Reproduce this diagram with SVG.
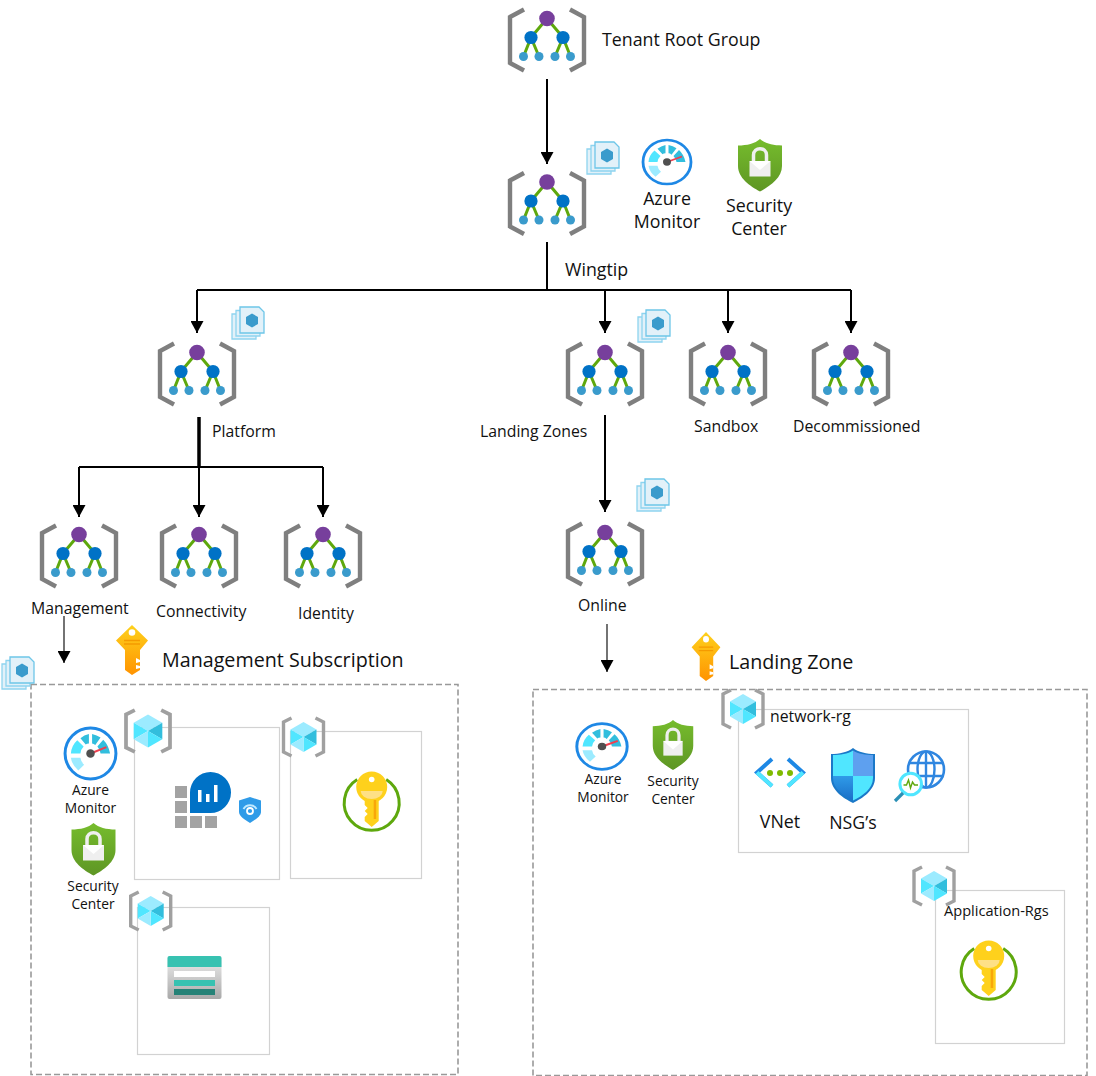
<svg xmlns="http://www.w3.org/2000/svg" xmlns:xlink="http://www.w3.org/1999/xlink" width="1096" height="1076" viewBox="0 0 1096 1076">
<style>
text{font-family:"Open Sans","Noto Sans","Liberation Sans",sans-serif;fill:#111}
.c{text-anchor:middle}
.s14{font-size:13.8px}.s16{font-size:15.8px}.s18{font-size:17.8px}.s20{font-size:19.7px}
.box{fill:none;stroke:#d2d2d2;stroke-width:1.2}
.dash{fill:none;stroke:#999;stroke-width:1.6;stroke-dasharray:6 3}
.ln{fill:none;stroke:#000;stroke-width:2}
.thin{fill:none;stroke:#000;stroke-width:1.1}
.thick{fill:none;stroke:#000;stroke-width:3.5}
</style>
<defs>
<marker id="ah" markerUnits="userSpaceOnUse" markerWidth="13" markerHeight="13" refX="12" refY="6.5" orient="auto"><path d="M0 0L12 6.5L0 13Z" fill="#000"/></marker>
<linearGradient id="gs" x1="0" y1="0" x2="0" y2="1"><stop offset="0" stop-color="#76bc2d"/><stop offset="1" stop-color="#5e9624"/></linearGradient>
<linearGradient id="gk" x1="0" y1="0" x2="0" y2="1"><stop offset="0" stop-color="#fed11c"/><stop offset="1" stop-color="#ff9300"/></linearGradient>
<linearGradient id="gst" x1="0" y1="0" x2="0" y2="1"><stop offset="0" stop-color="#eeeeee"/><stop offset="1" stop-color="#a9a9a9"/></linearGradient>
<linearGradient id="gn" x1="0" y1="0" x2="0" y2="1"><stop offset="0" stop-color="#2f9be8"/><stop offset="1" stop-color="#1b6fc8"/></linearGradient>
<g id="mg">
<path d="M-23 9.500L-37 17V63L-23 70.500M23 9.500L37 17V63L23 70.500" fill="none" stroke="#7f7f7f" stroke-width="4.400"/>
<path d="M0 18.500L-16 37.500M-16 37.500L-23.500 56.500M-16 37.500L-8 56.500M0 18.500L16 37.500M16 37.500L8 56.500M16 37.500L23.500 56.500" fill="none" stroke="#5ea80d" stroke-width="3"/>
<circle cx="0" cy="18.500" r="7.800" fill="#773f9c"/>
<circle cx="-16" cy="37.500" r="6.600" fill="#0072c6"/><circle cx="16" cy="37.500" r="6.600" fill="#0072c6"/>
<g fill="#3a9bcc"><circle cx="-23.500" cy="56.500" r="4.500"/><circle cx="-8" cy="56.500" r="4.500"/><circle cx="8" cy="56.500" r="4.500"/><circle cx="23.500" cy="56.500" r="4.500"/></g>
</g>
<g id="stack">
<path d="M0 8H19L24 13V33H0Z" fill="#e2f1f9" stroke="#8ed4ef" stroke-width="1.300"/>
<path d="M4 4.500H23L28 9.500V30H4Z" fill="#e2f1f9" stroke="#8ed4ef" stroke-width="1.300"/>
<path d="M8 1H27L32 6V27H8Z" fill="#e2f1f9" stroke="#6ec6e8" stroke-width="1.300"/>
<path d="M20 7.500L26 11V18L20 21.500L14 18V11Z" fill="#3a9bcc"/>
</g>
<g id="rg">
<path d="M-12 -19L-20 -15V15L-12 19M12 -19L20 -15V15L12 19" fill="none" stroke="#a0a0a0" stroke-width="3.400"/>
<path d="M0 -15L13 -7.500L0 0L-13 -7.500Z" fill="#9cebff"/>
<path d="M13 -7.500V7.500L0 0Z" fill="#32bedd"/>
<path d="M-13 -7.500V7.500L0 0Z" fill="#50e6ff"/>
<path d="M0 0L13 7.500L0 15Z" fill="#50e6ff"/>
<path d="M0 0L-13 7.500L0 15Z" fill="#9cebff"/>
</g>
<g id="gauge">
<circle r="24" fill="#fff" stroke="#1e88e5" stroke-width="2.800"/>
<path d="M-18.500 4H-9.500Q-9 8 -6 10.500L-11.500 16Q-17.500 11 -18.500 4Z" fill="#9cebff"/>
<path d="M-18.500 0Q-18 -7.500 -12.500 -12.500L-6.500 -6.500Q-9 -4 -9.500 0Z" fill="#50e6ff"/>
<path d="M-9.500 -14.500Q-6 -17.500 -1.500 -18.500V-9.500Q-3.500 -9.500 -4.500 -8.500Z" fill="#32bedd"/>
<path d="M1.500 -18.500Q6 -17.500 9.500 -15L4.500 -8Q3 -9.500 1.500 -9.500Z" fill="#32bedd"/>
<path d="M12 -13Q17 -8 18.500 0H9.500Q9 -3.500 6.500 -6.500Z" fill="#32bedd"/>
<path d="M0 0L15 -6" stroke="#ef3f4f" stroke-width="2" fill="none"/>
<circle r="4" fill="#505050"/>
</g>
<g id="lock">
<path d="M0 0C5 4.500 13 6.500 22 6.500V27C22 39 10 47 0 52.500C-10 47 -22 39 -22 27V6.500C-13 6.500 -5 4.500 0 0Z" fill="url(#gs)"/>
<rect x="-10.500" y="22" width="21" height="15.500" fill="#efefef"/>
<path d="M-10.500 22L0 31L10.500 22" fill="#fff"/>
<path d="M-6.500 22V16C-6.500 7.500 6.500 7.500 6.500 16V22" fill="none" stroke="#efefef" stroke-width="3.500"/>
</g>
<g id="ykey">
<path d="M0 0L16 15.500L8 25V45L0 50L-7 45V25L-16 15.500Z" fill="url(#gk)"/>
<circle cx="0" cy="7.500" r="3.300" fill="#fff"/>
<path d="M-8 15.500H8M-8 19H8" stroke="#f59a00" stroke-width="1.300"/>
<path d="M4 33L8 35V37L4 38ZM4 40L8 41V43L4 44Z" fill="#fff"/>
</g>
<g id="vault">
<path d="M-14.500 -23.500A27.500 27.500 0 1 0 14.500 -23.500" fill="none" stroke="#5ea80d" stroke-width="3"/>
<circle cy="-16" r="15.500" fill="#fed11c"/>
<path d="M-11 -12H11A11 8 0 0 1 -11 -12Z" fill="#fee086"/>
<circle cy="-23.500" r="2.800" fill="#fff"/>
<path d="M-7 -4H7V18L0 24L-7 18V14L-4 11L-7 8L-4 5L-7 2Z" fill="#fed11c"/>
<rect x="2" y="-3" width="2.500" height="19" fill="#f8a70a"/>
</g>
</defs>

<g id="connectors">
<path class="ln" d="M547 79V164" marker-end="url(#ah)"/>
<path class="ln" d="M547 242V290"/>
<path class="ln" d="M197 290H851"/>
<path class="ln" d="M197 290V333" marker-end="url(#ah)"/>
<path class="ln" d="M605 290V333" marker-end="url(#ah)"/>
<path class="ln" d="M728 290V333" marker-end="url(#ah)"/>
<path class="ln" d="M851 290V333" marker-end="url(#ah)"/>
<path class="thick" d="M199 417V467"/>
<path class="ln" d="M79 467H323"/>
<path class="ln" d="M79 467V517" marker-end="url(#ah)"/>
<path class="ln" d="M199 467V517" marker-end="url(#ah)"/>
<path class="ln" d="M323 467V517" marker-end="url(#ah)"/>
<path class="ln" d="M605 415V512" marker-end="url(#ah)"/>
<path class="thin" d="M64 616V663" marker-end="url(#ah)"/>
<path class="thin" d="M607 624V672" marker-end="url(#ah)"/>
</g>

<g id="node-tenant"><use href="#mg" x="547" y="0"/><text x="602" y="46" class="s18">Tenant Root Group</text></g>
<g id="node-wingtip"><use href="#mg" x="547" y="163.500"/><use href="#stack" x="587" y="141"/><text x="565" y="276" class="s18">Wingtip</text></g>
<g id="top-monitor"><use href="#gauge" transform="translate(667 162) scale(1 .92)"/><text x="667" y="205" class="c s18">Azure</text><text x="667" y="228" class="c s18">Monitor</text></g>
<g id="top-security"><use href="#lock" x="760" y="139"/><text x="759" y="212" class="c s18">Security</text><text x="759" y="235" class="c s18">Center</text></g>

<g id="node-platform"><use href="#mg" x="197" y="334"/><use href="#stack" x="232" y="306"/><text x="212" y="437" class="s16">Platform</text></g>
<g id="node-landing-zones"><use href="#mg" x="605" y="334"/><use href="#stack" x="638" y="309"/><text x="480" y="437" class="s16">Landing Zones</text></g>
<g id="node-sandbox"><use href="#mg" x="728" y="334"/><text x="694" y="432" class="s16">Sandbox</text></g>
<g id="node-decommissioned"><use href="#mg" x="851" y="334"/><text x="793" y="432" class="s16">Decommissioned</text></g>
<g id="node-management"><use href="#mg" x="79" y="516"/><text x="31" y="614" class="s16">Management</text></g>
<g id="node-connectivity"><use href="#mg" x="199" y="516"/><text x="156" y="617" class="s16">Connectivity</text></g>
<g id="node-identity"><use href="#mg" x="323" y="516"/><text x="298" y="619" class="s16">Identity</text></g>
<g id="node-online"><use href="#mg" x="605" y="514"/><use href="#stack" x="637" y="478"/><text x="578" y="611" class="s16">Online</text></g>

<g id="management-subscription">
<rect class="dash" x="31" y="684.500" width="427" height="390"/>
<use href="#stack" x="2" y="656"/>
<use href="#ykey" transform="translate(132 625)"/>
<text x="162" y="667" class="s20">Management Subscription</text>
<use href="#gauge" transform="translate(90.500 753.500) scale(1.060)"/>
<text x="90.500" y="795" class="c s14">Azure</text><text x="90.500" y="813" class="c s14">Monitor</text>
<use href="#lock" transform="translate(93.500 823)"/>
<text x="93" y="891" class="c s14">Security</text><text x="93" y="909" class="c s14">Center</text>
<rect class="box" x="134.500" y="727.500" width="145" height="152"/>
<use href="#rg" transform="translate(148 731) scale(1.100)"/>
<g id="log-analytics">
<g fill="#a3a3a3"><rect x="175" y="786" width="12" height="12"/><rect x="175" y="801" width="12" height="12"/><rect x="175" y="816" width="12" height="12"/><rect x="190" y="816" width="12" height="12"/><rect x="205" y="816" width="12" height="12"/></g>
<path d="M210.500 772A20.500 20.500 0 0 1 210.500 813H190V792.500A20.500 20.500 0 0 1 210.500 772Z" fill="#0072c6"/>
<g fill="#fff"><rect x="198" y="790" width="3.500" height="12"/><rect x="206" y="794" width="3.500" height="8"/><rect x="214" y="785" width="3.500" height="17"/></g>
</g>
<g id="defender-small">
<path d="M250 797L261 800.500V812C261 816 255 820 250 823C245 820 239 816 239 812V800.500Z" fill="#2f9be8"/>
<path d="M243.500 809A7.500 7.500 0 0 1 256.500 809" fill="none" stroke="#bfe9ff" stroke-width="2"/>
<circle cx="250" cy="811" r="3" fill="none" stroke="#fff" stroke-width="1.800"/>
</g>
<rect class="box" x="290.500" y="731.500" width="131" height="147"/>
<use href="#rg" x="303.500" y="737"/>
<use href="#vault" x="371.700" y="803"/>
<rect class="box" x="137.500" y="907.500" width="132" height="147"/>
<use href="#rg" x="150.700" y="911"/>
<g id="storage">
<rect x="167.500" y="956" width="54" height="43" rx="2" fill="url(#gst)"/>
<path d="M167.500 967V958Q167.500 956 169.500 956H219.500Q221.500 956 221.500 958V967Z" fill="#37c2b1"/>
<rect x="174" y="971" width="41" height="6" fill="#fff"/>
<rect x="174" y="980" width="41" height="6" fill="#37c2b1"/>
<rect x="174" y="989" width="41" height="6" fill="#258277"/>
</g>
</g>

<g id="landing-zone">
<rect class="dash" x="533" y="689.500" width="554" height="386"/>
<use href="#ykey" transform="translate(706 632) scale(.9 .98)"/>
<text x="729" y="669" class="s20">Landing Zone</text>
<use href="#gauge" transform="translate(602 746.500) scale(1.050 .95)"/>
<text x="603" y="784" class="c s14">Azure</text><text x="603" y="802" class="c s14">Monitor</text>
<use href="#lock" transform="translate(673 720) scale(.92 .95)"/>
<text x="673" y="786" class="c s14">Security</text><text x="673" y="804" class="c s14">Center</text>
<rect class="box" x="738.500" y="709.500" width="230" height="143"/>
<use href="#rg" x="743" y="709"/>
<text x="770" y="722" class="s16">network-rg</text>
<g id="vnet">
<path d="M772 759L757 772.500L772 786" fill="none" stroke="#1e88e5" stroke-width="4"/>
<path d="M788 759L803 772.500L788 786" fill="none" stroke="#1e88e5" stroke-width="4"/>
<path d="M757 772.500L772 786M803 772.500L788 786" fill="none" stroke="#50e6ff" stroke-width="4"/>
<g fill="#7fba00"><circle cx="770" cy="773" r="3"/><circle cx="780" cy="773" r="3"/><circle cx="790" cy="773" r="3"/></g>
</g>
<g id="nsg">
<path d="M853 748C858 752 867 754 875 754V778C875 790 863 798 853 803C843 798 831 790 831 778V754C839 754 848 752 853 748Z" fill="#1b78c8"/>
<path d="M853 750.500V776H833V755C840 755 848 754 853 750.500Z" fill="#50e6ff"/>
<path d="M853 750.500C858 754 866 755 873 755V776H853Z" fill="#5ea0ef"/>
<path d="M853 776H873V778C873 789 862 796 853 800.500Z" fill="#50e6ff"/>
<path d="M833 776H853V800.500C844 796 833 789 833 778Z" fill="url(#gn)"/>
</g>
<g id="network-watcher">
<circle cx="926" cy="769.500" r="18" fill="#fff" stroke="#2f86e0" stroke-width="2.600"/>
<g fill="none" stroke="#2f86e0" stroke-width="2.400"><ellipse cx="926" cy="769.500" rx="8.500" ry="18"/><path d="M926 751.500V787.500M908.500 763H943.500M908.500 776H943.500"/></g>
<circle cx="910.700" cy="784" r="10.800" fill="#fff" stroke="#50e6ff" stroke-width="3"/>
<path d="M903.500 785L906.500 785L908.500 780L910.500 788L912.500 782L914.500 785H918" fill="none" stroke="#5ea80d" stroke-width="1.400"/>
<path d="M903 793L895 801" stroke="#2a8fb5" stroke-width="3.200"/>
</g>
<text x="780" y="828" class="c s18">VNet</text>
<text x="853" y="829" class="c s18">NSG’s</text>
<rect class="box" x="935.500" y="890.500" width="129" height="153"/>
<use href="#rg" x="934" y="886"/>
<text x="944" y="916" style="font-size:14.6px">Application-Rgs</text>
<use href="#vault" x="988.700" y="972"/>
</g>
</svg>
